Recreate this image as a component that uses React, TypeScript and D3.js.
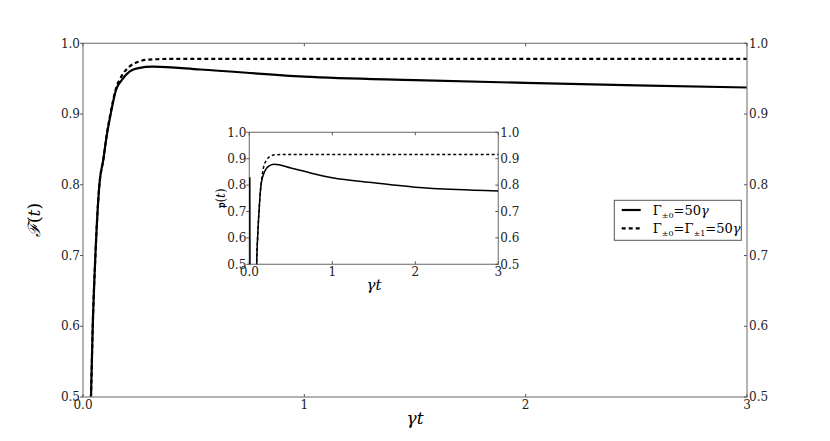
import React from "react";
import * as d3 from "d3";

const mainTicksX = [0, 1, 2, 3];
const mainTicksY = [0.5, 0.6, 0.7, 0.8, 0.9, 1.0];

const mainSolidT = [0.03, 0.036, 0.044, 0.056, 0.074, 0.092, 0.105, 0.125, 0.149, 0.175, 0.21, 0.25, 0.316, 0.53, 1.0, 1.5, 2.0, 2.5, 3.0];
const mainSolidF = [0.45, 0.5, 0.6, 0.7, 0.8, 0.836, 0.865, 0.9, 0.934, 0.948, 0.96, 0.965, 0.967, 0.963, 0.953, 0.948, 0.944, 0.9405, 0.9375];

const mainDashT = [0.03, 0.036, 0.044, 0.056, 0.074, 0.092, 0.105, 0.125, 0.149, 0.175, 0.21, 0.25, 0.3, 0.4, 1.0, 2.0, 3.0];
const mainDashF = [0.45, 0.5, 0.6, 0.7, 0.8, 0.836, 0.866, 0.902, 0.936, 0.954, 0.967, 0.974, 0.977, 0.978, 0.978, 0.978, 0.978];

const insetSpikeT = [0.006, 0.009];
const insetSpikeP = [0.83, 0.3];

const insetSolidT = [0.085, 0.089, 0.1, 0.117, 0.141, 0.19, 0.24, 0.3, 0.5, 0.75, 1.0, 1.5, 2.0, 2.5, 3.0];
const insetSolidP = [0.3, 0.5, 0.6, 0.7, 0.8, 0.855, 0.873, 0.879, 0.865, 0.845, 0.828, 0.809, 0.792, 0.783, 0.778];

const insetDashT = [0.085, 0.089, 0.1, 0.117, 0.141, 0.17, 0.21, 0.26, 0.32, 0.4, 1.0, 2.0, 3.0];
const insetDashP = [0.3, 0.5, 0.6, 0.7, 0.8, 0.865, 0.896, 0.91, 0.915, 0.916, 0.916, 0.916, 0.916];

const legendLabels = ["Γ", "Γ"];

const FONT = "DejaVu Serif, Liberation Serif, serif";

function Axes({ x, y, ticksX, ticksY, fmtX, fmtY, fontSize }: any) {
  const [x0, x1] = x.range();
  const [y0, y1] = y.range();
  const tl = 3;
  return (
    <g fontFamily={FONT} fontSize={fontSize} fill="#222">
      <rect x={x0} y={y1} width={x1 - x0} height={y0 - y1} fill="none" stroke="#808080" strokeWidth={1.2} />
      {ticksY.map((v: number) => (
        <g key={"y" + v}>
          <line x1={x0 - tl} x2={x0} y1={y(v)} y2={y(v)} stroke="#555" />
          <line x1={x1 - tl} x2={x1} y1={y(v)} y2={y(v)} stroke="#555" />
          <text x={x0 - 3} y={y(v)} dy="0.35em" textAnchor="end">{fmtY(v)}</text>
          <text x={x1 + 2} y={y(v)} dy="0.35em" textAnchor="start">{fmtY(v)}</text>
        </g>
      ))}
      {ticksX.map((v: number) => (
        <g key={"x" + v}>
          <line x1={x(v)} x2={x(v)} y1={y0} y2={y0 - tl} stroke="#555" />
          <line x1={x(v)} x2={x(v)} y1={y1} y2={y1 + tl} stroke="#555" />
          <text x={x(v)} y={y0 + 2} dy="0.8em" textAnchor="middle">{fmtX(v)}</text>
        </g>
      ))}
    </g>
  );
}

export default function App() {
  const W = 830, H = 441;
  const x = d3.scaleLinear().domain([0, 3]).range([83, 747]);
  const y = d3.scaleLinear().domain([0.5, 1.0]).range([397, 43.3]);
  const xi = d3.scaleLinear().domain([0, 3]).range([249.3, 498.3]);
  const yi = d3.scaleLinear().domain([0.5, 1.0]).range([264.3, 132.3]);

  const solid = d3.line<number>().x((d) => x(d)).y((d, i) => y(mainSolidF[i])).curve(d3.curveMonotoneX)(mainSolidT);
  const dash = d3.line<number>().x((d) => x(d)).y((d, i) => y(mainDashF[i])).curve(d3.curveMonotoneX)(mainDashT);
  const iSpike = d3.line<number>().x((d) => xi(d)).y((d, i) => yi(insetSpikeP[i]))(insetSpikeT);
  const iSolid = d3.line<number>().x((d) => xi(d)).y((d, i) => yi(insetSolidP[i])).curve(d3.curveMonotoneX)(insetSolidT);
  const iDash = d3.line<number>().x((d) => xi(d)).y((d, i) => yi(insetDashP[i])).curve(d3.curveMonotoneX)(insetDashT);

  const f1 = d3.format(".1f");
  const f0 = (v: number) => (v === 0 ? "0.0" : String(v));

  return (
    <svg width={W} height={H} style={{ position: "absolute", left: 0, top: 0, background: "#fff" }}>
      <defs>
        <clipPath id="cm"><rect x={83} y={43.3} width={664} height={353.7} /></clipPath>
        <clipPath id="ci"><rect x={248.5} y={132.3} width={250} height={132} /></clipPath>
      </defs>
      <g clipPath="url(#cm)">
        <path d={dash!} fill="none" stroke="#000" strokeWidth={2.2} strokeDasharray="4,3" />
        <path d={solid!} fill="none" stroke="#000" strokeWidth={2.2} />
      </g>
      <Axes x={x} y={y} ticksX={mainTicksX} ticksY={mainTicksY} fmtX={f0} fmtY={f1} fontSize={12} />
      <text x={415} y={424} fontFamily={FONT} fontStyle="italic" fontSize={17} textAnchor="middle">γt</text>
      <text transform="translate(40,220) rotate(-90)" fontFamily={FONT} fontSize={17} textAnchor="middle">
        <tspan fontStyle="italic">ℱ</tspan>(<tspan fontStyle="italic">t</tspan>)
      </text>

      <rect x={249.3} y={132.3} width={249} height={132} fill="#fff" />
      <Axes x={xi} y={yi} ticksX={mainTicksX} ticksY={mainTicksY} fmtX={f0} fmtY={f1} fontSize={12} />
      <g clipPath="url(#ci)">
        <path d={iDash!} fill="none" stroke="#000" strokeWidth={1.5} strokeDasharray="3,2.5" />
        <path d={iSpike!} fill="none" stroke="#000" strokeWidth={1.5} />
        <path d={iSolid!} fill="none" stroke="#000" strokeWidth={1.5} />
      </g>
      <text x={374} y={290} fontFamily={FONT} fontStyle="italic" fontSize={15} textAnchor="middle">γt</text>
      <text transform="translate(225,198) rotate(-90)" fontFamily={FONT} fontSize={12} textAnchor="middle">
        <tspan fontWeight="bold">𝔭</tspan>(<tspan fontStyle="italic">t</tspan>)
      </text>

      <g fontFamily={FONT} fontSize={13}>
        <rect x={614.3} y={200.3} width={127} height={40} fill="#fff" stroke="#555" strokeWidth={1} />
        <line x1={621.7} x2={640.7} y1={210} y2={210} stroke="#000" strokeWidth={2.2} />
        <line x1={621.7} x2={640.7} y1={228.3} y2={228.3} stroke="#000" strokeWidth={2.2} strokeDasharray="4,3" />
        <text x={652.7} y={210} dy="0.35em">{legendLabels[0]}<tspan fontSize={8} dy="3">±0</tspan><tspan dy="-3">=50</tspan><tspan fontStyle="italic">γ</tspan></text>
        <text x={652.7} y={228.3} dy="0.35em">{legendLabels[1]}<tspan fontSize={8} dy="3">±0</tspan><tspan dy="-3">=Γ</tspan><tspan fontSize={8} dy="3">±1</tspan><tspan dy="-3">=50</tspan><tspan fontStyle="italic">γ</tspan></text>
      </g>
    </svg>
  );
}
